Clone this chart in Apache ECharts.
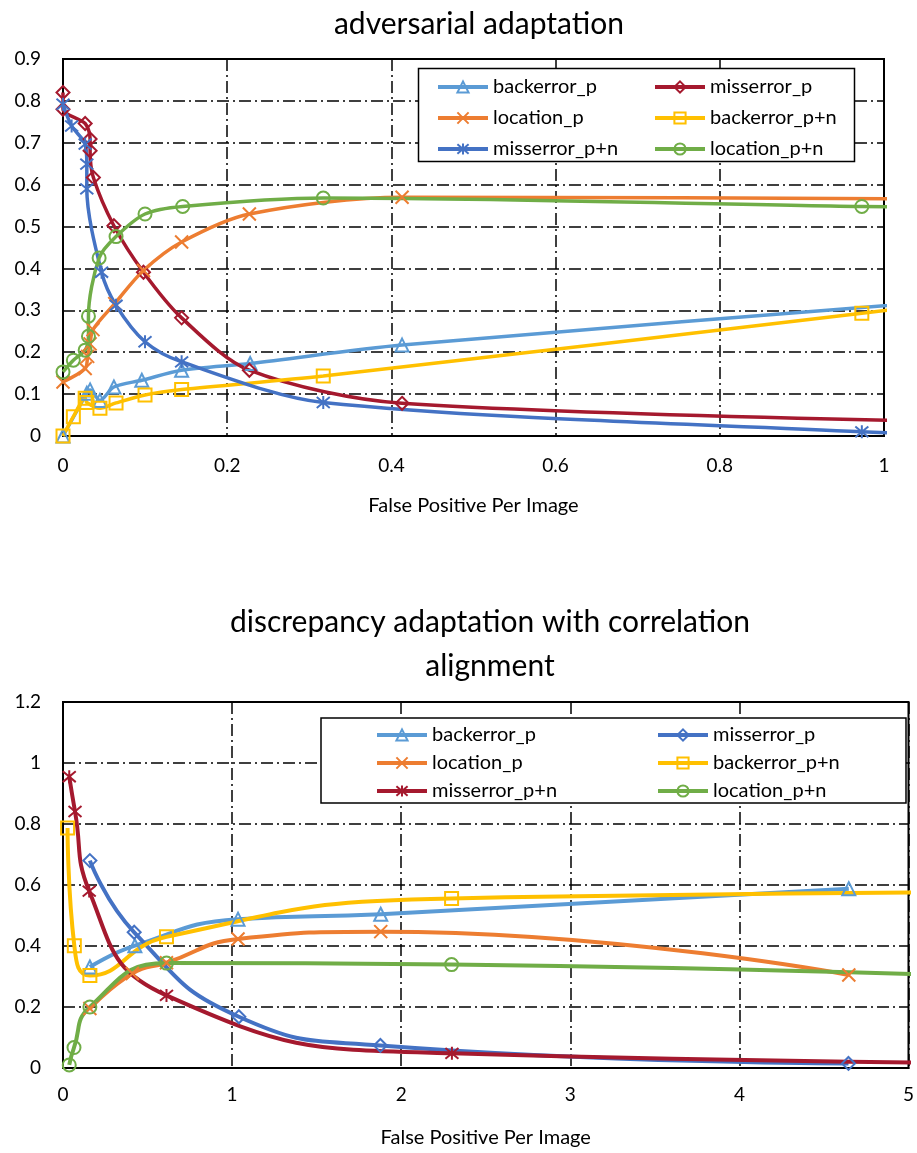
<!DOCTYPE html>
<html>
<head>
<meta charset="utf-8">
<title>adaptation</title>
<script src="https://cdn.jsdelivr.net/npm/echarts@6/dist/echarts.min.js"></script>
<style>
  html, body { margin: 0; padding: 0; background: #fff; }
  #topChart { width: 917px; height: 576px; }
  #bottomChart { width: 917px; height: 577px; }
</style>
</head>
<body>
<div id="topChart"></div>
<div id="bottomChart"></div>
<script>
// points are [false positives per image, error]
// adversarial adaptation
const advBackerrorP = [[0, 0], [0.029, 0.102], [0.033, 0.11], [0.045, 0.085], [0.062, 0.117], [0.096, 0.133], [0.1445, 0.157], [0.228, 0.173], [0.413, 0.217], [1.2, 0.342]]
const advMisserrorP = [[0, 0.82], [0, 0.78], [0.027, 0.746], [0.033, 0.709], [0.033, 0.681], [0.037, 0.617], [0.062, 0.502], [0.098, 0.391], [0.1445, 0.282], [0.227, 0.157], [0.413, 0.078], [1.2, 0.03]]
const advLocationP = [[0, 0.129], [0.027, 0.161], [0.03, 0.19], [0.033, 0.22], [0.0365, 0.254], [0.063, 0.316], [0.098, 0.395], [0.1445, 0.463], [0.227, 0.53], [0.413, 0.57], [1.2, 0.565]]
const advBackerrorPN = [[0, 0], [0.0126, 0.046], [0.027, 0.09], [0.029, 0.08], [0.045, 0.066], [0.0646, 0.079], [0.0999, 0.098], [0.1445, 0.111], [0.317, 0.143], [0.973, 0.293], [1.1, 0.322]]
const advMisserrorPN = [[0, 0.792], [0.0105, 0.74], [0.027, 0.697], [0.029, 0.649], [0.029, 0.59], [0.047, 0.391], [0.0646, 0.312], [0.0999, 0.225], [0.1445, 0.177], [0.317, 0.08], [0.973, 0.01], [1.1, 0.005]]
const advLocationPN = [[0, 0.153], [0.0126, 0.181], [0.027, 0.205], [0.031, 0.238], [0.031, 0.286], [0.044, 0.425], [0.0646, 0.476], [0.0999, 0.53], [0.1458, 0.548], [0.317, 0.568], [0.973, 0.548], [1.1, 0.545]]

// discrepancy adaptation with correlation alignment
const disBackerrorP = [[0.159, 0.331], [0.425, 0.401], [1.035, 0.488], [1.879, 0.504], [4.647, 0.588]]
const disMisserrorP = [[0.159, 0.68], [0.421, 0.445], [1.04, 0.168], [1.877, 0.074], [4.645, 0.015]]
const disLocationP = [[0.159, 0.195], [0.41, 0.31], [0.612, 0.345], [1.035, 0.423], [1.879, 0.447], [4.647, 0.305]]
const disBackerrorPN = [[0.027, 0.787], [0.067, 0.401], [0.159, 0.303], [0.612, 0.43], [2.298, 0.556], [7, 0.58]]
const disMisserrorPN = [[0.037, 0.955], [0.071, 0.841], [0.155, 0.58], [0.612, 0.238], [2.3, 0.048], [7, 0.01]]
const disLocationPN = [[0.037, 0.01], [0.065, 0.067], [0.159, 0.2], [0.612, 0.344], [2.298, 0.339], [7, 0.27]]

const advXTicks = [0, 0.2, 0.4, 0.6, 0.8, 1]
const advYTicks = [0, 0.1, 0.2, 0.3, 0.4, 0.5, 0.6, 0.7, 0.8, 0.9]
const disXTicks = [0, 1, 2, 3, 4, 5]
const disYTicks = [0, 0.2, 0.4, 0.6, 0.8, 1, 1.2]

const legendLeft = ['backerror_p', 'location_p', 'misserror_p+n']
const legendRight = ['misserror_p', 'backerror_p+n', 'location_p+n']

const FONT = 'Lato, "Open Sans", sans-serif'
const COLORS = {
  lightBlue: '#5B9BD5',
  orange: '#ED7D31',
  yellow: '#FFC000',
  blue: '#4472C4',
  green: '#70AD47',
  darkRed: '#A5192E'
}
const CROSS = 'path://M0,0L10,10M10,0L0,10'
const STAR = 'path://M0,0L10,10M10,0L0,10M5,-1L5,11'

const makeSeries = (name, data, color, symbol, smooth, width) => ({
  name,
  type: 'line',
  data,
  smooth,
  symbol,
  symbolSize: 13,
  showAllSymbol: true,
  lineStyle: { color, width },
  itemStyle: { color: 'transparent', borderColor: color, borderWidth: 2 },
  emphasis: { disabled: true }
})

const makeAxis = (ticks, isX, labelMargin) => ({
  type: 'value',
  min: ticks[0],
  max: ticks[ticks.length - 1],
  interval: ticks[1] - ticks[0],
  axisLine: { show: true, onZero: false, lineStyle: { color: '#000', width: 2 } },
  axisTick: { show: false },
  axisLabel: { color: '#000', fontSize: 19, fontFamily: FONT, margin: labelMargin },
  splitLine: { show: true, lineStyle: { color: '#000', width: 1.5, type: [12, 4, 2, 4] } },
  name: isX ? 'False Positive Per Image' : '',
  nameLocation: 'middle',
  nameGap: 60,
  nameTextStyle: { color: '#000', fontSize: 20, fontFamily: FONT }
})

const makeLegend = (data, left, top, gap) => ({
  orient: 'vertical',
  left,
  top,
  data,
  itemWidth: 50,
  itemHeight: 14,
  itemGap: gap,
  selectedMode: false,
  z: 5,
  lineStyle: { width: 4 },
  textStyle: { color: '#000', fontSize: 20, fontFamily: FONT }
})

const initTopChart = () => {
  const chart = echarts.init(document.getElementById('topChart'))
  const option = {
    animation: false,
    title: {
      text: 'adversarial adaptation',
      left: 474,
      top: 4,
      textAlign: 'center',
      textStyle: { color: '#000', fontSize: 30, fontWeight: 'normal', fontFamily: FONT }
    },
    grid: { left: 63, top: 59, width: 821, height: 377, show: true, borderColor: '#000', borderWidth: 2 },
    xAxis: makeAxis(advXTicks, true, 20),
    yAxis: makeAxis(advYTicks, false, 22),
    legend: [makeLegend(legendLeft, 431, 72, 11), makeLegend(legendRight, 648, 72, 11)],
    graphic: [{
      type: 'rect',
      z: 3,
      shape: { x: 418.5, y: 68.5, width: 436, height: 93 },
      style: { fill: '#fff', stroke: '#000', lineWidth: 1.5 }
    }],
    series: [
      makeSeries('backerror_p', advBackerrorP, COLORS.lightBlue, 'triangle', 0.3, 3.5),
      makeSeries('misserror_p', advMisserrorP, COLORS.darkRed, 'diamond', 0.3, 3.5),
      makeSeries('location_p', advLocationP, COLORS.orange, CROSS, 0.3, 3.5),
      makeSeries('backerror_p+n', advBackerrorPN, COLORS.yellow, 'rect', 0.3, 3.5),
      makeSeries('misserror_p+n', advMisserrorPN, COLORS.blue, STAR, 0.3, 3.5),
      makeSeries('location_p+n', advLocationPN, COLORS.green, 'circle', 0.3, 3.5)
    ]
  }
  chart.setOption(option)
}

const initBottomChart = () => {
  const chart = echarts.init(document.getElementById('bottomChart'))
  const option = {
    animation: false,
    title: {
      text: 'discrepancy adaptation with correlation\nalignment',
      left: 485,
      top: 19,
      textAlign: 'center',
      textStyle: { color: '#000', fontSize: 30, lineHeight: 44, fontWeight: 'normal', fontFamily: FONT }
    },
    grid: { left: 63, top: 126, width: 847, height: 367, show: true, borderColor: '#000', borderWidth: 2 },
    xAxis: makeAxis(disXTicks, true, 17),
    yAxis: makeAxis(disYTicks, false, 22),
    legend: [makeLegend(legendLeft, 370, 144, 8), makeLegend(legendRight, 651, 144, 8)],
    graphic: [{
      type: 'rect',
      z: 3,
      shape: { x: 321, y: 142, width: 585, height: 85 },
      style: { fill: '#fff', stroke: '#000', lineWidth: 1.5 }
    }],
    series: [
      makeSeries('backerror_p', disBackerrorP, COLORS.lightBlue, 'triangle', 0.5, 4),
      makeSeries('misserror_p', disMisserrorP, COLORS.blue, 'diamond', 0.5, 4),
      makeSeries('location_p', disLocationP, COLORS.orange, CROSS, 0.5, 4),
      makeSeries('backerror_p+n', disBackerrorPN, COLORS.yellow, 'rect', 0.5, 4),
      makeSeries('misserror_p+n', disMisserrorPN, COLORS.darkRed, STAR, 0.5, 4),
      makeSeries('location_p+n', disLocationPN, COLORS.green, 'circle', 0.5, 4)
    ]
  }
  chart.setOption(option)
}

initTopChart()
initBottomChart()
</script>
</body>
</html>
